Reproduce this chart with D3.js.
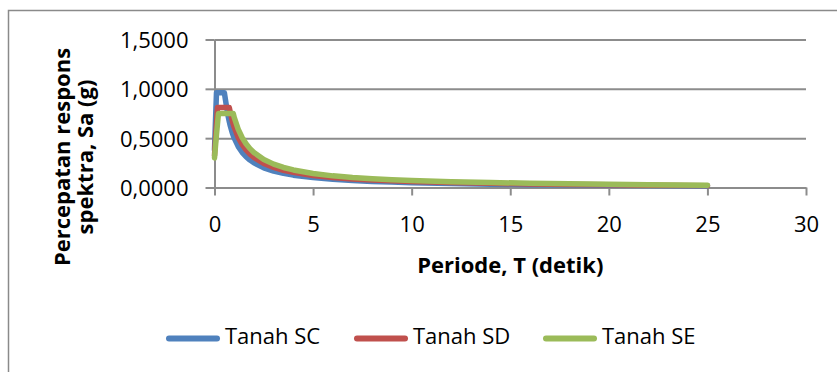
<!DOCTYPE html>
<html>
<head>
<meta charset="utf-8">
<script src="https://cdn.jsdelivr.net/npm/d3@7"></script>
<style>
  html, body { margin: 0; padding: 0; background: #fff; }
  svg { display: block; }
</style>
</head>
<body>
<svg id="chart" width="837" height="372"></svg>
<script>
// ---- data ----
const periods = [0, 0.1, 0.15, 0.2, 0.3, 0.4, 0.5, 0.6, 0.7, 0.75, 0.8, 0.9, 0.95, 1.0, 1.2, 1.4, 1.6, 1.8, 2.0, 2.5, 3, 3.5, 4, 5, 6, 7, 8, 9, 10, 12, 14, 16, 18, 20, 22, 25];
const tanahSC = [0.384, 0.96, 0.96, 0.96, 0.96, 0.96, 0.96, 0.833, 0.714, 0.667, 0.625, 0.556, 0.526, 0.50, 0.417, 0.357, 0.313, 0.278, 0.25, 0.20, 0.167, 0.143, 0.125, 0.10, 0.083, 0.071, 0.062, 0.055, 0.049, 0.040, 0.034, 0.029, 0.025, 0.022, 0.019, 0.016];
const tanahSD = [0.324, 0.648, 0.81, 0.81, 0.81, 0.81, 0.81, 0.81, 0.81, 0.81, 0.763, 0.678, 0.642, 0.61, 0.508, 0.436, 0.381, 0.339, 0.305, 0.244, 0.203, 0.174, 0.153, 0.122, 0.102, 0.087, 0.076, 0.068, 0.060, 0.050, 0.042, 0.036, 0.031, 0.027, 0.024, 0.019];
const tanahSE = [0.30, 0.537, 0.64, 0.75, 0.75, 0.75, 0.75, 0.75, 0.75, 0.75, 0.75, 0.75, 0.75, 0.71, 0.592, 0.507, 0.444, 0.394, 0.355, 0.284, 0.237, 0.203, 0.178, 0.142, 0.118, 0.101, 0.089, 0.079, 0.070, 0.058, 0.050, 0.043, 0.038, 0.033, 0.029, 0.022];
const seriesNames = ["Tanah SC", "Tanah SD", "Tanah SE"];
const seriesColors = ["#4F81BD", "#C0504D", "#9BBB59"];
const xTicks = [0, 5, 10, 15, 20, 25, 30];
const yTicks = [0, 0.5, 1.0, 1.5];
const xTitle = "Periode, T (detik)";
const yTitleLines = ["Percepatan respons", "spektra, Sa (g)"];

// ---- layout ----
const svg = d3.select("#chart");
const FONT = "'Open Sans', 'Liberation Sans', sans-serif";
const gridColor = "#8c8c8c";
const L = 214.5, R = 806, T = 39.5, B = 187.5;

const x = d3.scaleLinear().domain([0, 30]).range([L, R]);
const y = d3.scaleLinear().domain([0, 1.5]).range([B, T]);

// outer border (chart area, partially cropped)
svg.append("rect")
  .attr("x", 8.5).attr("y", 10.5).attr("width", 900).attr("height", 500)
  .attr("fill", "none").attr("stroke", "#8a8a8a").attr("stroke-width", 1.5);

const locale = d3.formatLocale({decimal: ",", thousands: ".", grouping: [3], currency: ["", ""]});
const yFmt = locale.format(".4f");

// gridlines
const grid = svg.append("g").attr("transform", `translate(${L},0)`)
  .call(d3.axisLeft(y).tickValues(yTicks).tickSize(-(R - L)).tickFormat(""));
grid.select(".domain").remove();
grid.selectAll("line").attr("stroke", gridColor).attr("stroke-width", 2);

// y axis
const yAxis = svg.append("g").attr("transform", `translate(${L},0)`)
  .call(d3.axisLeft(y).tickValues(yTicks).tickSizeInner(9).tickSizeOuter(0).tickPadding(17).tickFormat(yFmt));
yAxis.select(".domain").attr("stroke", gridColor).attr("stroke-width", 2);
yAxis.selectAll("line").attr("stroke", gridColor).attr("stroke-width", 2);
yAxis.selectAll("text").attr("font-family", FONT).attr("font-size", 22).attr("fill", "#000")
  .attr("dy", null).attr("y", 8);

// x axis
const xAxis = svg.append("g").attr("transform", `translate(0,${B})`)
  .call(d3.axisBottom(x).tickValues(xTicks).tickSizeInner(8).tickSizeOuter(0).tickPadding(10).tickFormat(d3.format("d")));
xAxis.select(".domain").attr("stroke", gridColor).attr("stroke-width", 2);
xAxis.selectAll("line").attr("stroke", gridColor).attr("stroke-width", 2);
xAxis.selectAll("text").attr("font-family", FONT).attr("font-size", 22).attr("fill", "#000")
  .attr("dy", null).attr("y", 44.5);

// lines
const allSeries = [tanahSC, tanahSD, tanahSE];
const line = d3.line().x((d, i) => x(periods[i])).y(d => y(d));
allSeries.forEach((vals, k) => {
  svg.append("path")
    .datum(vals)
    .attr("d", line)
    .attr("fill", "none")
    .attr("stroke", seriesColors[k])
    .attr("stroke-width", 5.5)
    .attr("stroke-linecap", "round")
    .attr("stroke-linejoin", "round");
});

// axis titles
svg.append("text")
  .attr("x", (L + R) / 2).attr("y", 273)
  .attr("text-anchor", "middle")
  .attr("font-family", FONT).attr("font-weight", "bold").attr("font-size", 22)
  .text(xTitle);

const yTitle = svg.append("text")
  .attr("transform", "translate(70,157) rotate(-90)")
  .attr("text-anchor", "middle")
  .attr("font-family", FONT).attr("font-weight", "bold").attr("font-size", 22);
yTitleLines.forEach((t, i) => {
  yTitle.append("tspan").attr("x", 0).attr("y", i * 23).text(t);
});

// legend
const legendX = [169, 357, 546];
const legend = svg.append("g");
seriesNames.forEach((name, k) => {
  const g = legend.append("g").attr("transform", `translate(${legendX[k]},338.5)`);
  g.append("line").attr("x1", 0).attr("x2", 48).attr("y1", 0).attr("y2", 0)
    .attr("stroke", seriesColors[k]).attr("stroke-width", 6).attr("stroke-linecap", "round");
  g.append("text").attr("x", 56).attr("y", 5.5)
    .attr("font-family", FONT).attr("font-size", 22).attr("fill", "#000")
    .text(name);
});
</script>
</body>
</html>
